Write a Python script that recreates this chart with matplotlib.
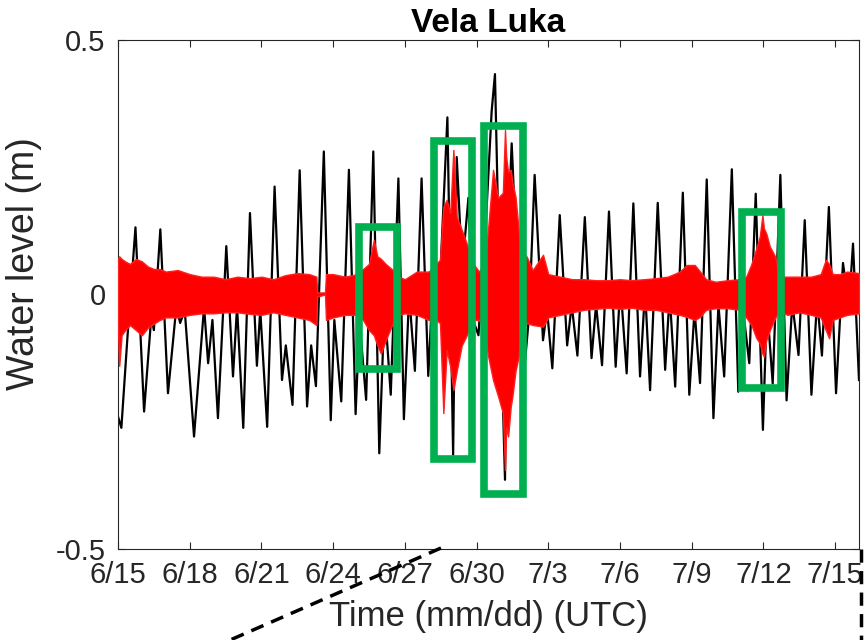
import numpy as np
import matplotlib
matplotlib.use("Agg")
import matplotlib.pyplot as plt
from matplotlib.patches import Rectangle
from matplotlib.lines import Line2D

# time in days after 6/15 00:00 UTC
tick_days = [0, 3, 6, 9, 12, 15, 18, 21, 24, 27, 30]
tick_labels = ["6/15", "6/18", "6/21", "6/24", "6/27", "6/30",
               "7/3", "7/6", "7/9", "7/12", "7/15"]

# total water level (black), turning points
black_t = [0.00, 0.14, 0.40, 0.73, 1.09, 1.39, 1.50, 1.77, 2.09, 2.44, 2.60, 2.79,
           3.18, 3.60, 3.77, 3.95, 4.18, 4.53, 4.81, 4.98, 5.24, 5.52, 5.81, 5.95,
           6.24, 6.55, 6.86, 7.02, 7.30, 7.60, 7.91, 8.08, 8.28, 8.61, 8.90, 9.05,
           9.34, 9.66, 9.94, 10.10, 10.38, 10.68, 10.93, 11.15, 11.41, 11.73, 11.96, 12.18,
           12.42, 12.70, 12.98, 13.20, 13.40, 13.78, 14.02, 14.17, 14.40, 14.66, 14.85, 15.08,
           15.40, 15.63, 15.77, 15.95, 16.19, 16.30, 16.47, 16.70, 17.03, 17.20, 17.43, 17.78,
           17.95, 18.17, 18.48, 18.79, 18.98, 19.22, 19.53, 19.81, 20.00, 20.25, 20.54, 20.82,
           21.02, 21.28, 21.56, 21.84, 22.05, 22.26, 22.58, 22.89, 23.08, 23.31, 23.63, 23.90,
           24.12, 24.35, 24.63, 24.91, 25.12, 25.36, 25.68, 25.95, 26.15, 26.41, 26.68, 26.98,
           27.15, 27.39, 27.71, 27.97, 28.21, 28.47, 28.73, 29.01, 29.25, 29.45, 29.74, 30.04,
           30.33, 30.58, 30.75, 31.00]
black_v = [-0.240, -0.262, -0.080, 0.132, -0.230, -0.044, -0.070, 0.128, -0.194, -0.024, -0.056, -0.030,
           -0.279, -0.024, -0.135, -0.050, -0.243, 0.095, -0.161, -0.024, -0.262, 0.160, -0.140, -0.030,
           -0.260, 0.212, -0.168, -0.100, -0.217, 0.244, -0.220, -0.100, -0.180, 0.281, -0.247, -0.050,
           -0.210, 0.245, -0.235, -0.050, -0.207, 0.281, -0.312, -0.020, -0.197, 0.228, -0.245, 0.000,
           -0.150, 0.228, -0.160, 0.050, -0.050, 0.348, -0.315, 0.270, 0.050, 0.190, -0.050, -0.080,
           0.150, 0.359, 0.433, 0.050, -0.364, 0.100, 0.297, 0.050, -0.130, -0.040, 0.235, -0.090,
           -0.030, -0.145, 0.156, -0.100, -0.020, -0.120, 0.152, -0.125, -0.020, -0.139, 0.163, -0.142,
           0.020, -0.155, 0.179, -0.161, 0.010, -0.188, 0.180, -0.148, 0.000, -0.181, 0.200, -0.197,
           -0.030, -0.174, 0.226, -0.243, -0.020, -0.161, 0.246, -0.191, -0.030, -0.135, 0.198, -0.266,
           -0.020, -0.175, 0.235, -0.208, -0.017, -0.119, 0.146, -0.197, -0.010, -0.120, 0.172, -0.194,
           0.062, -0.024, 0.100, -0.168]

# high-pass filtered signal (red), upper / lower envelope
red_t = [0.0, 0.05, 0.15, 0.3, 0.5, 0.75, 1.0, 1.25, 1.5, 1.75, 2.0, 2.5, 3.0, 3.5, 4.0, 4.5,
         5.0, 5.5, 6.0, 6.5, 7.0, 7.5, 8.0, 8.3, 8.33, 8.66, 8.7, 9.0, 9.5, 10.0, 10.25, 10.5,
         10.7, 10.85, 11.0, 11.2, 11.5, 11.75, 12.0, 12.5, 13.0, 13.3, 13.47, 13.61, 13.75, 13.9,
         14.03, 14.17, 14.38, 14.59, 14.87, 15.1, 15.3, 15.48, 15.69, 15.9, 16.1, 16.19, 16.24, 16.32,
         16.43, 16.5, 16.63, 16.76, 16.85, 17.1, 17.35, 17.78, 18.0, 18.5, 19.0, 19.5, 20.0, 20.5,
         21.0, 21.5, 22.0, 22.5, 23.0, 23.5, 23.8, 24.13, 24.35, 24.6, 25.0, 25.5, 26.0, 26.28,
         26.5, 26.7, 26.85, 26.96, 27.02, 27.12, 27.27, 27.5, 27.62, 27.8, 28.0, 28.5, 29.0, 29.4,
         29.61, 29.75, 29.9, 30.2, 30.5, 31.0]
red_hi = [0.070, 0.075, 0.070, 0.065, 0.060, 0.070, 0.065, 0.055, 0.050, 0.050, 0.045, 0.048, 0.040, 0.035, 0.035, 0.030,
          0.035, 0.032, 0.035, 0.030, 0.038, 0.042, 0.040, 0.035, 0.004, 0.004, 0.040, 0.040, 0.035, 0.040, 0.050, 0.060,
          0.107, 0.075, 0.070, 0.060, 0.048, 0.035, 0.030, 0.045, 0.045, 0.060, 0.068, 0.172, 0.186, 0.160,
          0.284, 0.153, 0.127, 0.100, 0.060, 0.045, 0.060, 0.127, 0.245, 0.190, 0.200, 0.323, 0.270, 0.240,
          0.245, 0.220, 0.192, 0.127, 0.090, 0.074, 0.048, 0.078, 0.040, 0.035, 0.030, 0.030, 0.028, 0.028,
          0.030, 0.028, 0.030, 0.032, 0.035, 0.045, 0.058, 0.058, 0.045, 0.030, 0.025, 0.028, 0.030, 0.035,
          0.060, 0.090, 0.114, 0.156, 0.130, 0.120, 0.094, 0.074, 0.045, 0.035, 0.035, 0.035, 0.035, 0.040,
          0.068, 0.060, 0.040, 0.040, 0.045, 0.042]
red_lo = [-0.070, -0.140, -0.080, -0.070, -0.060, -0.070, -0.080, -0.065, -0.057, -0.050, -0.045, -0.045, -0.040, -0.037, -0.037, -0.035,
          -0.035, -0.038, -0.040, -0.035, -0.040, -0.045, -0.050, -0.060, -0.004, 0.000, -0.050, -0.045, -0.040, -0.040, -0.050, -0.070,
          -0.080, -0.100, -0.116, -0.090, -0.056, -0.040, -0.037, -0.040, -0.050, -0.050, -0.056, -0.233, -0.109, -0.142,
          -0.188, -0.150, -0.100, -0.080, -0.050, -0.050, -0.070, -0.120, -0.168, -0.200, -0.233, -0.345, -0.260, -0.279,
          -0.220, -0.200, -0.150, -0.122, -0.070, -0.056, -0.060, -0.063, -0.045, -0.040, -0.035, -0.030, -0.028, -0.026,
          -0.028, -0.026, -0.030, -0.030, -0.035, -0.040, -0.044, -0.050, -0.044, -0.030, -0.027, -0.027, -0.030, -0.045,
          -0.060, -0.085, -0.096, -0.116, -0.122, -0.090, -0.070, -0.045, -0.037, -0.035, -0.040, -0.035, -0.040, -0.045,
          -0.070, -0.086, -0.050, -0.045, -0.040, -0.037]

# highlighted events: start day, end day, bottom, top
boxes = [(10.08, 11.67, -0.146, 0.133),
         (13.22, 14.83, -0.324, 0.301),
         (15.33, 16.95, -0.391, 0.331),
         (26.10, 27.75, -0.183, 0.163)]

txt = "#262626"
plt.rcParams["font.family"] = ["Liberation Sans", "DejaVu Sans"]

fig = plt.figure(figsize=(8.64, 6.4), dpi=100)
ax = fig.add_axes([0.1366, 0.1422, 0.8576, 0.7953])

ax.plot(black_t, black_v, color="k", lw=1.6, zorder=2)
ax.fill_between(red_t, red_lo, red_hi, facecolor="#ff0000", edgecolor="#ff2020",
                lw=1.0, zorder=3)

for t0, t1, lo, hi in boxes:
    ax.add_patch(Rectangle((t0, lo), t1 - t0, hi - lo, fill=False,
                           edgecolor="#00b050", lw=5.5, joinstyle="miter", zorder=4))

ax.set_xlim(0, 31)
ax.set_ylim(-0.5, 0.5)
ax.set_xticks(tick_days)
ax.set_xticklabels(tick_labels)
ax.set_yticks([-0.5, 0, 0.5])
ax.set_yticklabels(["-0.5", "0", "0.5"])
ax.tick_params(direction="in", length=5, width=0.8, colors=txt, labelsize=21,
               top=True, right=True, pad=9)
for sp in ax.spines.values():
    sp.set_color(txt)
    sp.set_linewidth(0.8)

ax.set_title("Vela Luka", fontsize=24, fontweight="bold", pad=6)
ax.set_xlabel("Time (mm/dd) (UTC)", fontsize=25, color=txt)
ax.set_ylabel("Water level (m)", fontsize=27, color=txt)
ax.xaxis.set_label_coords(0.5, -0.10)
ax.yaxis.set_label_coords(-0.102, 0.56)

# dashed connector lines of the zoom inset below
dash = (0, (3.8, 2.4))
fig.add_artist(Line2D([441 / 864, 205 / 864], [1 - 548 / 640, 1 - 651 / 640],
                      color="k", lw=2.5, ls=dash, clip_on=False, zorder=10))
fig.add_artist(Line2D([861 / 864, 861 / 864], [1 - 549 / 640, 0.0],
                      color="k", lw=2.5, ls=dash, clip_on=False, zorder=10))

fig.savefig("out.png", dpi=100)
